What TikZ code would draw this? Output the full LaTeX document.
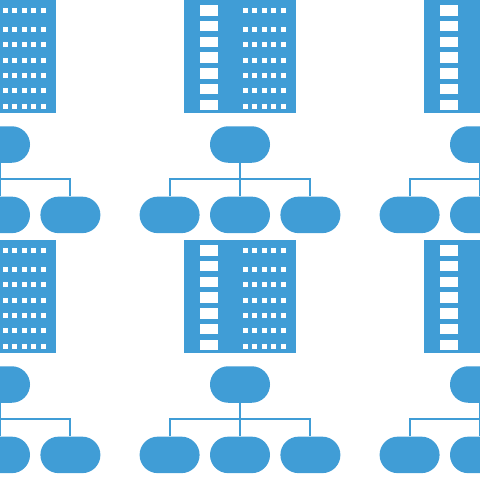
\documentclass[tikz,border=0pt]{standalone}
\usepackage{tikz}
\usetikzlibrary{positioning}
\definecolor{tileblue}{HTML}{409DD6}

\begin{document}
\begin{tikzpicture}[
x=1pt,y=-1pt,
block/.style={rectangle,fill=tileblue,inner sep=0pt,minimum width=112pt,minimum height=113.5pt},
pill/.style={rectangle,rounded corners=18.2pt,fill=tileblue,inner sep=0pt,minimum width=60pt,minimum height=36.5pt},
pane/.style={rectangle,fill=white,inner sep=0pt,minimum width=18pt,minimum height=10.5pt},
dot/.style={rectangle,fill=white,inner sep=0pt,minimum width=5pt,minimum height=5pt},
wire/.style={tileblue,line width=2pt}
]
\useasboundingbox (0,0) rectangle (480,480);
\clip (0,0) rectangle (480,480);
\foreach \col in {0,1,2} {
  \foreach \row in {0,1,2} {
    \pgfmathsetmacro{\tx}{240*\col}
    \pgfmathsetmacro{\ty}{240*\row}
    % building with its two kinds of window
    \node[block] (block-\col-\row) at (\tx,\ty+56.25) {};
    \foreach \n/\py in {1/10.3,2/26,3/41.8,4/57.6,5/73.4,6/89.2,7/105} {
      \node[pane] (pane-\col-\row-\n) at (\tx-31,\ty+\py) {};
    }
    \foreach \m/\py in {1/10.7,2/29,3/44.8,4/60,5/75.8,6/90.8,7/106.5} {
      \foreach \k/\px in {1/5,2/14.5,3/24,4/33.3,5/43} {
        \node[dot] (dot-\col-\row-\m-\k) at (\tx+\px,\ty+\py) {};
      }
    }
    % org chart under the building
    \node[pill] (root-\col-\row) at (\tx,\ty+144.5) {};
    \node[pill,below=33.5pt of root-\col-\row] (midleaf-\col-\row) {};
    \node[pill,left=10pt of midleaf-\col-\row] (leftleaf-\col-\row) {};
    \node[pill,right=10pt of midleaf-\col-\row] (rightleaf-\col-\row) {};
    \coordinate (bus-\col-\row) at (\tx,\ty+179);
    \draw[wire] (root-\col-\row)--(midleaf-\col-\row);
    \draw[wire] (leftleaf-\col-\row) |- (bus-\col-\row) -| (rightleaf-\col-\row);
  }
}
\end{tikzpicture}
\end{document}
